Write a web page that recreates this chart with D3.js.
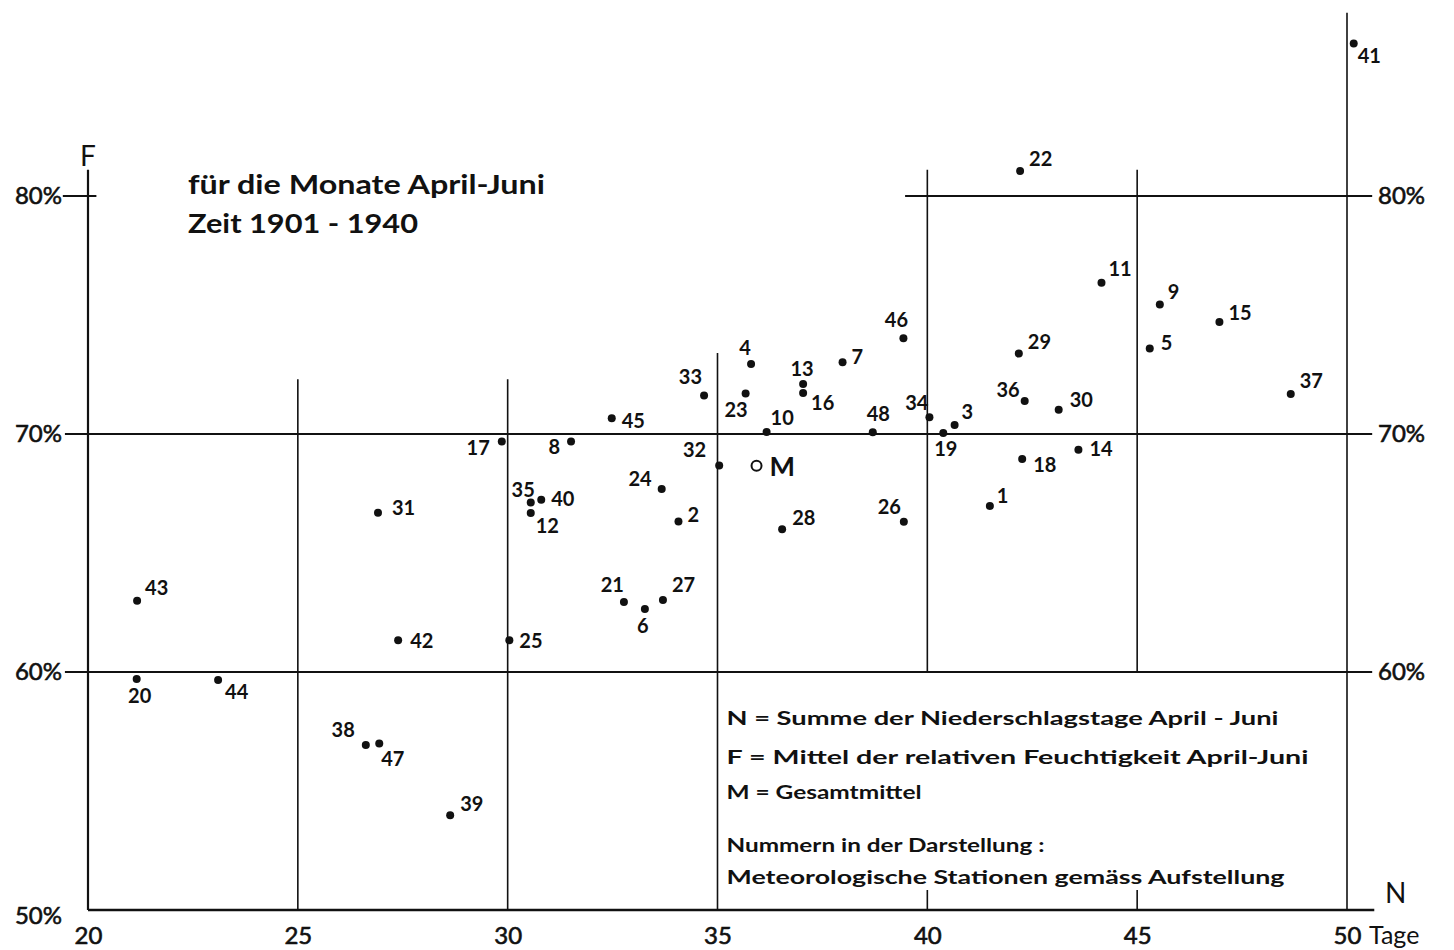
<!DOCTYPE html>
<html>
<head>
<meta charset="utf-8">
<script src="https://cdn.jsdelivr.net/npm/d3@7"></script>
<style>
    body { margin: 0; background: #FFFFFF; }
    svg { display: block; }
    text { font-family: Lato, "Liberation Sans", sans-serif; fill: #111111; }
</style>
</head>
<body>
<svg id="chart" width="1454" height="950"></svg>
<script>
// station numbers, N = Niederschlagstage, F = rel. Feuchtigkeit (%)
const stations = [1, 2, 3, 4, 5, 6, 7, 8, 9, 10, 11, 12, 13, 14, 15, 16, 17, 18, 19, 20, 21, 22, 23, 24,
    25, 26, 27, 28, 29, 30, 31, 32, 33, 34, 35, 36, 37, 38, 39, 40, 41, 42, 43, 44, 45, 46, 47, 48];
const tage = [41.49, 34.07, 40.65, 35.80, 45.30, 33.27, 37.98, 31.51, 45.54, 36.17, 44.15, 30.55,
    37.04, 43.60, 46.96, 37.04, 29.86, 42.26, 40.38, 21.16, 32.77, 42.21, 35.67, 33.67,
    30.04, 39.44, 33.70, 36.54, 42.18, 43.13, 26.91, 35.04, 34.68, 40.05, 30.55, 42.32,
    48.66, 26.62, 28.63, 30.80, 50.16, 27.39, 21.17, 23.10, 32.48, 39.43, 26.94, 38.70];
const feuchte = [66.98, 66.32, 70.38, 72.94, 73.59, 62.65, 73.01, 69.69, 75.44, 70.08, 76.35, 66.68,
    72.10, 69.34, 74.71, 71.72, 69.69, 68.95, 70.04, 59.71, 62.94, 81.05, 71.70, 67.69,
    61.33, 66.31, 63.03, 66.00, 73.38, 71.02, 66.69, 68.68, 71.62, 70.70, 67.12, 71.39,
    71.68, 56.93, 53.98, 67.24, 86.41, 61.33, 62.99, 59.66, 70.66, 74.02, 57.00, 70.07];
const gesamtmittel = { n: 35.93, f: 68.67 };

const xTicks = [20, 25, 30, 35, 40, 45, 50];
const yTicksLeft = [50, 60, 70, 80];
const yTicksRight = [60, 70, 80];

const titleLines = ["für die Monate April-Juni", "Zeit  1901 - 1940"];
const legendLines = [
    "N =  Summe der Niederschlagstage April - Juni",
    "F =  Mittel der relativen Feuchtigkeit April-Juni",
    "M = Gesamtmittel",
    "Nummern in der Darstellung :",
    "Meteorologische  Stationen gemäss Aufstellung"
];

// label placement around each dot: [dx, dy, anchor]
const labelPos = {
    1: [7, -3, "start"], 2: [9, 0, "start"], 3: [7, -6, "start"], 4: [-6, -9, "middle"],
    5: [11, 1, "start"], 6: [-2, 24, "middle"], 7: [9, 2, "start"], 8: [-11, 13, "end"],
    9: [8, -6, "start"], 10: [4, -7, "start"], 11: [7, -7, "start"], 12: [5, 20, "start"],
    13: [-1, -8, "middle"], 14: [11, 6, "start"], 15: [9, -2, "start"], 16: [8, 17, "start"],
    17: [-12, 14, "end"], 18: [11, 13, "start"], 19: [-9, 23, "start"], 20: [3, 24, "middle"],
    21: [0, -10, "end"], 22: [9, -5, "start"], 23: [2, 23, "end"], 24: [-10, -3, "end"],
    25: [10, 8, "start"], 26: [-3, -8, "end"], 27: [9, -8, "start"], 28: [10, -4, "start"],
    29: [9, -5, "start"], 30: [11, -3, "start"], 31: [14, 2, "start"], 32: [-13, -8, "end"],
    33: [-2, -11, "end"], 34: [-1, -7, "end"], 35: [4, -6, "end"], 36: [-5, -4, "end"],
    37: [9, -6, "start"], 38: [-11, -8, "end"], 39: [10, -4, "start"], 40: [10, 6, "start"],
    41: [4, 20, "start"], 42: [12, 8, "start"], 43: [8, -6, "start"], 44: [7, 19, "start"],
    45: [10, 10, "start"], 46: [-7, -11, "middle"], 47: [2, 23, "start"], 48: [-6, -11, "start"]
};

// frame lines in data units: [N, F from, F to] and [F, N from, N to]
const vLines = [[20, 50, 81.1], [25, 50, 72.3], [30, 50, 72.3], [35, 50, 73.4],
    [40, 60, 81.1], [40, 50, 50.84], [45, 60, 81.1], [45, 50, 50.84], [50, 50, 87.7]];
const hLines = [[80, 19.4, 20.2], [80, 39.47, 50.6], [70, 19.45, 50.6], [60, 19.45, 50.6], [50, 20, 50.65]];

const svg = d3.select("#chart");
const x = d3.scaleLinear().domain([20, 50]).range([88, 1347]);
const y = d3.scaleLinear().domain([50, 80]).range([910, 196]);

const wideFont = "\"DejaVu Sans\", Verdana, sans-serif";

function drawLine(x1, y1, x2, y2, width) {
    svg.append("line")
        .attr("x1", x1)
        .attr("y1", y1)
        .attr("x2", x2)
        .attr("y2", y2)
        .attr("stroke", "#111111")
        .attr("stroke-width", width);
}

vLines.forEach(([n, f0, f1]) => drawLine(x(n), y(f0), x(n), y(f1), n === 20 ? 2.2 : 1.6));
hLines.forEach(([f, n0, n1]) => drawLine(x(n0), y(f), x(n1), y(f), f === 50 ? 2.4 : 1.8));

// axes for the labels only
const bottom = svg.append("g")
    .attr("transform", `translate(0,${y(50)})`)
    .call(d3.axisBottom(x).tickValues(xTicks).tickSize(0).tickPadding(17));
const left = svg.append("g")
    .attr("transform", `translate(${x(20)},0)`)
    .call(d3.axisLeft(y).tickValues(yTicksLeft).tickFormat(d => d + "%").tickSize(0).tickPadding(26));
const right = svg.append("g")
    .attr("transform", `translate(${x(50)},0)`)
    .call(d3.axisRight(y).tickValues(yTicksRight).tickFormat(d => d + "%").tickSize(0).tickPadding(31));

[bottom, left, right].forEach(g => {
    g.select(".domain").remove();
    g.selectAll("text")
        .attr("font-family", wideFont)
        .attr("font-size", 24)
        .attr("font-weight", 400)
        .attr("stroke", "#111111")
        .attr("stroke-width", 0.6)
        .attr("fill", "#111111");
});
left.selectAll(".tick").filter(d => d === 50).select("text").attr("dy", "0.55em");

function addText(tx, ty, str, size, anchor) {
    return svg.append("text")
        .attr("x", tx)
        .attr("y", ty)
        .attr("text-anchor", anchor || "start")
        .attr("font-size", size)
        .attr("font-weight", 700)
        .text(str);
}

addText(x(50) + 22, y(50) + 34, "Tage", 25).attr("font-family", wideFont).attr("font-weight", 400);
addText(x(50) + 38, y(50) - 7, "N", 28).attr("font-family", wideFont).attr("font-weight", 400);
addText(x(20), y(80) - 30, "F", 28, "middle").attr("font-family", wideFont).attr("font-weight", 400);

const titleWidths = [357, 230];
titleLines.forEach((line, i) => {
    addText(188, 194 + i * 39, line, 26)
        .attr("font-family", wideFont)
        .attr("textLength", titleWidths[i])
        .attr("lengthAdjust", "spacingAndGlyphs");
});

const legendBase = [725, 764, 799, 852, 884];
const legendWidths = [552, 582, 195, 318, 558];
legendLines.forEach((line, i) => {
    addText(x(35) + 9, legendBase[i], line, 19)
        .attr("font-family", wideFont)
        .attr("textLength", legendWidths[i])
        .attr("lengthAdjust", "spacingAndGlyphs");
});

// stations
stations.forEach((s, i) => {
    const cx = x(tage[i]);
    const cy = y(feuchte[i]);
    svg.append("circle")
        .attr("cx", cx)
        .attr("cy", cy)
        .attr("r", 4)
        .attr("fill", "#111111");
    const [dx, dy, anchor] = labelPos[s];
    addText(cx + dx, cy + dy, s, 20, anchor);
});

// Gesamtmittel
svg.append("circle")
    .attr("cx", x(gesamtmittel.n))
    .attr("cy", y(gesamtmittel.f))
    .attr("r", 5)
    .attr("fill", "none")
    .attr("stroke", "#111111")
    .attr("stroke-width", 2);
addText(x(gesamtmittel.n) + 13, y(gesamtmittel.f) + 10, "M", 27);
</script>
</body>
</html>
